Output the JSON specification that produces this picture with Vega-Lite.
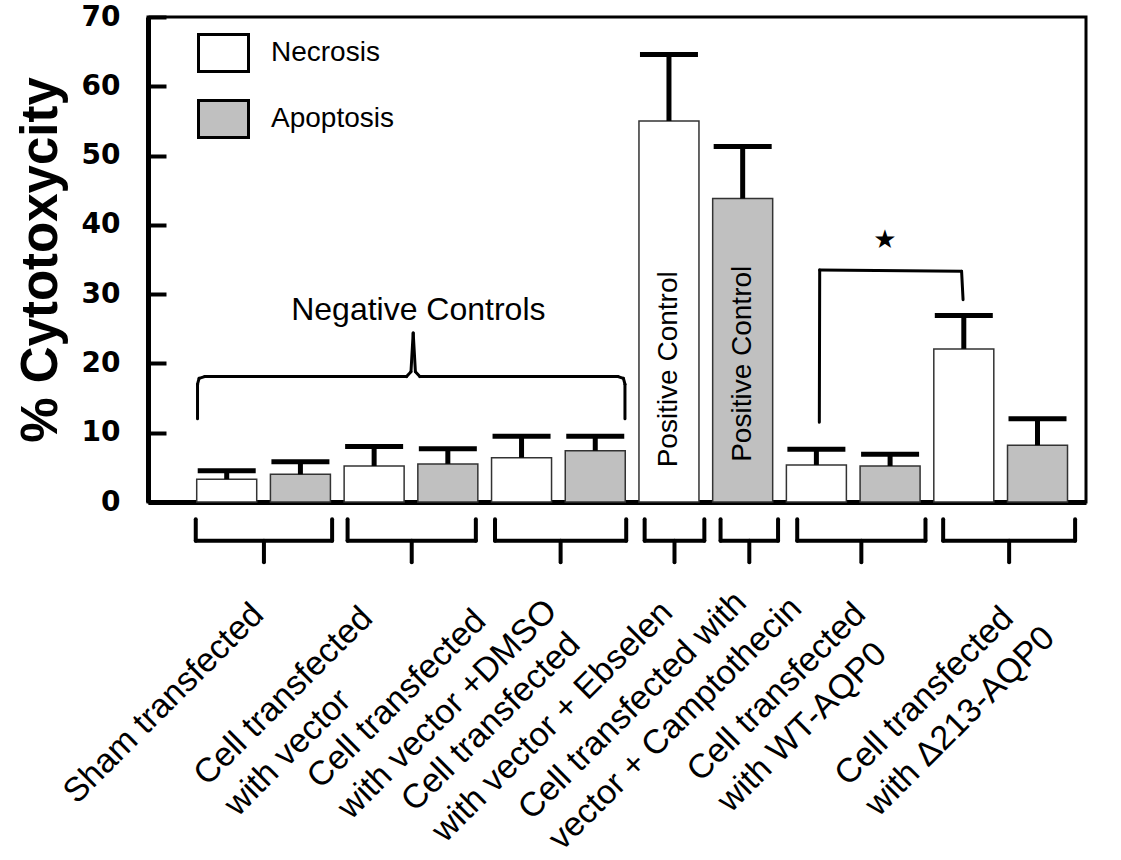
{
  "$schema": "https://vega.github.io/schema/vega-lite/v6.json",
  "width": 938,
  "height": 485,
  "autosize": {"type": "none"},
  "padding": {"left": 148, "top": 17, "right": 35, "bottom": 358},
  "background": "white",
  "config": {
    "font": "Liberation Sans",
    "view": {"stroke": "black", "strokeWidth": 3},
    "axis": {"grid": false}
  },
  "datasets": {
    "bars": [
      {"pos": 1, "group": "Sham", "type": "Necrosis", "value": 3.3, "upper": 4.5},
      {"pos": 2, "group": "Sham", "type": "Apoptosis", "value": 4.0, "upper": 5.8},
      {"pos": 3, "group": "Vector", "type": "Necrosis", "value": 5.2, "upper": 8.0},
      {"pos": 4, "group": "Vector", "type": "Apoptosis", "value": 5.5, "upper": 7.7},
      {"pos": 5, "group": "DMSO", "type": "Necrosis", "value": 6.4, "upper": 9.5},
      {"pos": 6, "group": "DMSO", "type": "Apoptosis", "value": 7.4, "upper": 9.5},
      {"pos": 7, "group": "Ebselen", "type": "Necrosis", "value": 55.0, "upper": 64.6},
      {"pos": 8, "group": "Camptothecin", "type": "Apoptosis", "value": 43.8, "upper": 51.3},
      {"pos": 9, "group": "WT", "type": "Necrosis", "value": 5.35, "upper": 7.6},
      {"pos": 10, "group": "WT", "type": "Apoptosis", "value": 5.2, "upper": 6.9},
      {"pos": 11, "group": "D213", "type": "Necrosis", "value": 22.1, "upper": 26.9},
      {"pos": 12, "group": "D213", "type": "Apoptosis", "value": 8.2, "upper": 12.0}
    ],
    "groups": [
      {"group": "Sham", "lo": 0.58, "hi": 2.43, "mid": 1.505, "lines": ["Sham transfected"]},
      {"group": "Vector", "lo": 2.64, "hi": 4.38, "mid": 3.51, "lines": ["Cell transfected", "with vector"]},
      {"group": "DMSO", "lo": 4.64, "hi": 6.42, "mid": 5.53, "lines": ["Cell transfected", "with vector +DMSO"]},
      {"group": "Ebselen", "lo": 6.67, "hi": 7.48, "mid": 7.075, "lines": ["Cell transfected", "with vector + Ebselen"]},
      {"group": "Camptothecin", "lo": 7.7, "hi": 8.48, "mid": 8.09, "lines": ["Cell transfected with", "vector + Camptothecin"]},
      {"group": "WT", "lo": 8.74, "hi": 10.48, "mid": 9.61, "lines": ["Cell transfected", "with WT-AQP0"]},
      {"group": "D213", "lo": 10.72, "hi": 12.51, "mid": 11.615, "lines": ["Cell transfected", "with Δ213-AQP0"]}
    ]
  },
  "layer": [
    {
      "data": {"name": "bars"},
      "mark": {"type": "bar", "size": 60, "stroke": "#333333", "strokeWidth": 1.5},
      "encoding": {
        "x": {"field": "pos", "type": "quantitative",
          "scale": {"domain": [0, 12.59], "nice": false, "zero": false},
          "axis": {"ticks": false, "labels": false, "title": null, "domainWidth": 5, "domainColor": "black", "grid": false}},
        "y": {"field": "value", "type": "quantitative",
          "scale": {"domain": [0, 70], "nice": false, "zero": true},
          "axis": {"values": [0, 10, 20, 30, 40, 50, 60, 70], "tickSize": -18, "tickWidth": 4, "tickColor": "black",
            "domainWidth": 5, "domainColor": "black", "labelFontSize": 28, "labelFontWeight": "bold",
            "labelFont": "DejaVu Sans", "labelColor": "black", "labelPadding": 46, "labelFlush": false,
            "title": "% Cytotoxycity", "titleFontSize": 51, "titleFontWeight": "bold", "titleFont": "Liberation Sans",
            "titleColor": "black", "titlePadding": 14, "grid": false}},
        "fill": {"field": "type", "type": "nominal",
          "scale": {"domain": ["Necrosis", "Apoptosis"], "range": ["#ffffff", "#c0c0c0"]},
          "legend": {"title": null, "orient": "none", "legendX": 49, "legendY": 9.5,
            "symbolType": "M-1,-0.74H1V0.74H-1Z", "symbolSize": 2500, "labelFontSize": 28,
            "labelFont": "Liberation Sans", "labelColor": "black", "labelOffset": 21, "rowPadding": 15, "padding": 0,
            "symbolStrokeColor": "black", "symbolStrokeWidth": 3, "symbolOpacity": 1,
            "encode": {"symbols": {
              "enter": {"fill": {"signal": "datum.value === 'Apoptosis' ? '#a6a6a6' : '#ffffff'"}},
              "update": {
              "fill": {"signal": "datum.value === 'Apoptosis' ? '#a6a6a6' : '#ffffff'"},
              "stroke": {"value": "black"}, "strokeWidth": {"value": 3}, "opacity": {"value": 1}}}}}}
      }
    },
    {
      "data": {"name": "bars"},
      "mark": {"type": "rule", "strokeWidth": 5, "color": "black"},
      "encoding": {
        "x": {"field": "pos", "type": "quantitative"},
        "y": {"field": "value", "type": "quantitative"},
        "y2": {"field": "upper"}
      }
    },
    {
      "data": {"name": "bars"},
      "mark": {"type": "tick", "orient": "horizontal", "size": 58, "thickness": 5, "fill": "black", "opacity": 1},
      "encoding": {
        "x": {"field": "pos", "type": "quantitative"},
        "y": {"field": "upper", "type": "quantitative"}
      }
    },
    {
      "data": {"name": "bars"},
      "transform": [{"filter": "datum.pos === 7"}],
      "mark": {"type": "text", "angle": 270, "align": "left", "baseline": "middle", "fontSize": 28, "font": "Liberation Sans", "color": "black"},
      "encoding": {
        "x": {"field": "pos", "type": "quantitative"},
        "y": {"datum": 5.0},
        "text": {"value": "Positive Control"}
      }
    },
    {
      "data": {"name": "bars"},
      "transform": [{"filter": "datum.pos === 8"}],
      "mark": {"type": "text", "angle": 270, "align": "left", "baseline": "middle", "fontSize": 28, "font": "Liberation Sans", "color": "black"},
      "encoding": {
        "x": {"field": "pos", "type": "quantitative"},
        "y": {"datum": 5.8},
        "text": {"value": "Positive Control"}
      }
    },
    {
      "data": {"name": "groups"},
      "mark": {"type": "rule", "strokeWidth": 4, "color": "black", "strokeCap": "round"},
      "encoding": {"x": {"field": "lo", "type": "quantitative"}, "x2": {"field": "hi"}, "y": {"datum": -5.6}}
    },
    {
      "data": {"name": "groups"},
      "mark": {"type": "rule", "strokeWidth": 4, "color": "black", "strokeCap": "round"},
      "encoding": {"x": {"field": "lo", "type": "quantitative"}, "y": {"datum": -2.5}, "y2": {"datum": -5.6}}
    },
    {
      "data": {"name": "groups"},
      "mark": {"type": "rule", "strokeWidth": 4, "color": "black", "strokeCap": "round"},
      "encoding": {"x": {"field": "hi", "type": "quantitative"}, "y": {"datum": -2.5}, "y2": {"datum": -5.6}}
    },
    {
      "data": {"name": "groups"},
      "mark": {"type": "rule", "strokeWidth": 4, "color": "black", "strokeCap": "round"},
      "encoding": {"x": {"field": "mid", "type": "quantitative"}, "y": {"datum": -5.6}, "y2": {"datum": -8.7}}
    },
    {
      "data": {"name": "groups"},
      "transform": [{"filter": "datum.group === 'Sham'"}],
      "mark": {"type": "text", "angle": 315, "align": "left", "baseline": "alphabetic", "fontSize": 34, "lineHeight": 43, "font": "Liberation Sans", "color": "black", "dx": -145.7, "dy": -118.9},
      "encoding": {"x": {"field": "mid", "type": "quantitative"}, "y": {"datum": -41}, "text": {"field": "lines"}}
    },
    {
      "data": {"name": "groups"},
      "transform": [{"filter": "datum.group === 'Vector'"}],
      "mark": {"type": "text", "angle": 315, "align": "left", "baseline": "alphabetic", "fontSize": 34, "lineHeight": 43, "font": "Liberation Sans", "color": "black", "dx": -145.3, "dy": -143.9},
      "encoding": {"x": {"field": "mid", "type": "quantitative"}, "y": {"datum": -41}, "text": {"field": "lines"}}
    },
    {
      "data": {"name": "groups"},
      "transform": [{"filter": "datum.group === 'DMSO'"}],
      "mark": {"type": "text", "angle": 315, "align": "left", "baseline": "alphabetic", "fontSize": 34, "lineHeight": 43, "font": "Liberation Sans", "color": "black", "dx": -172.5, "dy": -166.9},
      "encoding": {"x": {"field": "mid", "type": "quantitative"}, "y": {"datum": -41}, "text": {"field": "lines"}}
    },
    {
      "data": {"name": "groups"},
      "transform": [{"filter": "datum.group === 'Ebselen'"}],
      "mark": {"type": "text", "angle": 315, "align": "left", "baseline": "alphabetic", "fontSize": 34, "lineHeight": 43, "font": "Liberation Sans", "color": "black", "dx": -202.7, "dy": -164.5},
      "encoding": {"x": {"field": "mid", "type": "quantitative"}, "y": {"datum": -41}, "text": {"field": "lines"}}
    },
    {
      "data": {"name": "groups"},
      "transform": [{"filter": "datum.group === 'Camptothecin'"}],
      "mark": {"type": "text", "angle": 315, "align": "left", "baseline": "alphabetic", "fontSize": 34, "lineHeight": 43, "font": "Liberation Sans", "color": "black", "dx": -178.7, "dy": -129.1},
      "encoding": {"x": {"field": "mid", "type": "quantitative"}, "y": {"datum": -41}, "text": {"field": "lines"}}
    },
    {
      "data": {"name": "groups"},
      "transform": [{"filter": "datum.group === 'WT'"}],
      "mark": {"type": "text", "angle": 315, "align": "left", "baseline": "alphabetic", "fontSize": 34, "lineHeight": 43, "font": "Liberation Sans", "color": "black", "dx": -111.7, "dy": -115.9},
      "encoding": {"x": {"field": "mid", "type": "quantitative"}, "y": {"datum": -41}, "text": {"field": "lines"}}
    },
    {
      "data": {"name": "groups"},
      "transform": [{"filter": "datum.group === 'D213'"}],
      "mark": {"type": "text", "angle": 315, "align": "left", "baseline": "alphabetic", "fontSize": 34, "lineHeight": 43, "font": "Liberation Sans", "color": "black", "dx": -114.6, "dy": -113.1},
      "encoding": {"x": {"field": "mid", "type": "quantitative"}, "y": {"datum": -41}, "text": {"field": "lines"}}
    },
    {
      "data": {"values": [{}]},
      "mark": {"type": "text", "align": "center", "baseline": "alphabetic", "fontSize": 32, "font": "Liberation Sans", "color": "black"},
      "encoding": {"x": {"datum": 3.6}, "y": {"datum": 26.3}, "text": {"value": "Negative Controls"}}
    },
    {"data": {"values": [{}]}, "mark": {"type": "rule", "strokeWidth": 3, "color": "black", "strokeCap": "round"},
      "encoding": {"x": {"datum": 0.604}, "y": {"datum": 12.0}, "y2": {"datum": 17.0}}},
    {"data": {"values": [{}]}, "mark": {"type": "rule", "strokeWidth": 3, "color": "black", "strokeCap": "round"},
      "encoding": {"x": {"datum": 0.604}, "x2": {"datum": 0.625}, "y": {"datum": 17.0}, "y2": {"datum": 17.85}}},
    {"data": {"values": [{}]}, "mark": {"type": "rule", "strokeWidth": 3, "color": "black", "strokeCap": "round"},
      "encoding": {"x": {"datum": 0.625}, "x2": {"datum": 0.7}, "y": {"datum": 17.85}, "y2": {"datum": 18.1}}},
    {"data": {"values": [{}]}, "mark": {"type": "rule", "strokeWidth": 3, "color": "black", "strokeCap": "round"},
      "encoding": {"x": {"datum": 0.7}, "x2": {"datum": 3.44}, "y": {"datum": 18.1}}},
    {"data": {"values": [{}]}, "mark": {"type": "rule", "strokeWidth": 3, "color": "black", "strokeCap": "round"},
      "encoding": {"x": {"datum": 3.44}, "x2": {"datum": 3.5}, "y": {"datum": 18.1}, "y2": {"datum": 18.8}}},
    {"data": {"values": [{}]}, "mark": {"type": "rule", "strokeWidth": 3, "color": "black", "strokeCap": "round"},
      "encoding": {"x": {"datum": 3.5}, "x2": {"datum": 3.53}, "y": {"datum": 18.8}, "y2": {"datum": 24.4}}},
    {"data": {"values": [{}]}, "mark": {"type": "rule", "strokeWidth": 3, "color": "black", "strokeCap": "round"},
      "encoding": {"x": {"datum": 3.53}, "x2": {"datum": 3.56}, "y": {"datum": 24.4}, "y2": {"datum": 18.8}}},
    {"data": {"values": [{}]}, "mark": {"type": "rule", "strokeWidth": 3, "color": "black", "strokeCap": "round"},
      "encoding": {"x": {"datum": 3.56}, "x2": {"datum": 3.62}, "y": {"datum": 18.8}, "y2": {"datum": 18.1}}},
    {"data": {"values": [{}]}, "mark": {"type": "rule", "strokeWidth": 3, "color": "black", "strokeCap": "round"},
      "encoding": {"x": {"datum": 3.62}, "x2": {"datum": 6.31}, "y": {"datum": 18.1}}},
    {"data": {"values": [{}]}, "mark": {"type": "rule", "strokeWidth": 3, "color": "black", "strokeCap": "round"},
      "encoding": {"x": {"datum": 6.31}, "x2": {"datum": 6.382}, "y": {"datum": 18.1}, "y2": {"datum": 17.85}}},
    {"data": {"values": [{}]}, "mark": {"type": "rule", "strokeWidth": 3, "color": "black", "strokeCap": "round"},
      "encoding": {"x": {"datum": 6.382}, "x2": {"datum": 6.403}, "y": {"datum": 17.85}, "y2": {"datum": 17.0}}},
    {"data": {"values": [{}]}, "mark": {"type": "rule", "strokeWidth": 3, "color": "black", "strokeCap": "round"},
      "encoding": {"x": {"datum": 6.403}, "y": {"datum": 12.0}, "y2": {"datum": 17.0}}},
    {"data": {"values": [{}]}, "mark": {"type": "rule", "strokeWidth": 3, "color": "black", "strokeCap": "round"},
      "encoding": {"x": {"datum": 9.04}, "x2": {"datum": 9.045}, "y": {"datum": 11.5}, "y2": {"datum": 33.5}}},
    {"data": {"values": [{}]}, "mark": {"type": "rule", "strokeWidth": 3, "color": "black", "strokeCap": "round"},
      "encoding": {"x": {"datum": 9.045}, "x2": {"datum": 10.97}, "y": {"datum": 33.5}, "y2": {"datum": 33.3}}},
    {"data": {"values": [{}]}, "mark": {"type": "rule", "strokeWidth": 3, "color": "black", "strokeCap": "round"},
      "encoding": {"x": {"datum": 10.97}, "x2": {"datum": 10.99}, "y": {"datum": 33.3}, "y2": {"datum": 29.2}}},
    {
      "data": {"values": [{}]},
      "mark": {"type": "text", "align": "center", "baseline": "middle", "fontSize": 26, "font": "DejaVu Sans", "color": "black"},
      "encoding": {"x": {"datum": 9.93}, "y": {"datum": 37.8}, "text": {"value": "★"}}
    }
  ]
}
